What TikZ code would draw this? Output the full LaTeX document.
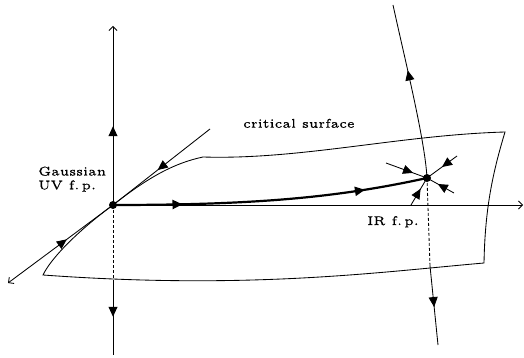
\documentclass[tikz,border=0pt]{standalone}
\usepackage{fontspec}
\newfontfamily\lmfive{lmroman5-regular}[Extension=.otf,FakeBold=0.6]
\usetikzlibrary{arrows.meta,decorations.markings}
\begin{document}
\begin{tikzpicture}[x=1pt,y=-1pt,
  ln/.style={line width=0.85pt},
  dsh/.style={line width=0.85pt,dash pattern=on 3pt off 2pt},
  midarrow/.style={postaction={decorate,decoration={markings,mark=at position #1 with {\arrow{Triangle[length=10pt,width=9pt]}}}}},
  opentip/.style={-{Straight Barb[length=4pt,width=8pt]}},
  fp/.style={circle,fill=black,inner sep=0pt,minimum size=8pt},
  lbl/.style={font=\lmfive\fontsize{12.6}{12.6}\selectfont,inner sep=0pt,anchor=base west}]
\useasboundingbox (0,0) rectangle (524,358);
% fixed points
\node[fp] (G) at (113,205) {};
\node[fp] (IR) at (427,178) {};
% coordinates
\coordinate (vtop) at (113,26);
\coordinate (vcross) at (113,280);
\coordinate (vbot) at (113,355);
\coordinate (hend) at (523,205);
\coordinate (dA) at (8,283);
\coordinate (dB) at (210,129);
\coordinate (TL) at (203,157);
\coordinate (TR) at (505,132);
\coordinate (BR) at (484,263);
\coordinate (BL) at (43,275);
\coordinate (T1) at (393,5);
\coordinate (IRc) at (430,266);
\coordinate (B1) at (438,345);
\coordinate (a1) at (386,163);
\coordinate (a2) at (457,156);
\coordinate (a3) at (454,193);
\coordinate (a4) at (411,205);
% vertical axis
\draw[ln,opentip,midarrow=0.44] (G.center) -- (vtop);
\draw[dsh] (G.center) -- (vcross);
\draw[ln,midarrow=0.49] (vcross) -- (vbot);
% horizontal axis
\draw[ln,opentip] (G.center) -- (hend);
% diagonal
\draw[ln,midarrow=0.54] (dB) -- (G.center);
\draw[ln,{Straight Barb[length=4pt,width=8pt]}-,midarrow=0.56] (dA) -- (G.center);
% critical surface
\draw[ln] (TL) .. controls (300,160) and (400,135) .. (TR)
  .. controls (492,175) and (485,210) .. (BR)
  .. controls (380,272) and (250,290) .. (BL)
  .. controls (50,260) and (75,233) .. (G.center)
  .. controls (150,176) and (175,163) .. (TL);
% thick trajectory
\draw[line width=2.2pt,midarrow=0.22,midarrow=0.8] (G.center) .. controls (260,205) and (340,197) .. (IR.center);
% IR trajectory
\draw[ln,midarrow=0.62] (IR.center) .. controls (425,140) and (405,60) .. (T1);
\draw[dsh] (IR.center) -- (IRc);
\draw[ln,midarrow=0.52] (IRc) -- (B1);
% inflowing arrows
\draw[ln,midarrow=0.66] (a1) -- (IR.center);
\draw[ln,midarrow=0.5] (a2) -- (IR.center);
\draw[ln,midarrow=0.6] (a3) -- (IR.center);
\draw[ln,midarrow=0.6] (a4) -- (IR.center);
% labels
\node[lbl] (crit) at (243,127.7) {critical surface};
\node[lbl] (gauss) at (38,175.5) {Gaussian};
\node[lbl] (uv) at (38,189.3) {UV f.\,p.};
\node[lbl] (irfp) at (367,225) {IR f.\,p.};
\end{tikzpicture}
\end{document}
